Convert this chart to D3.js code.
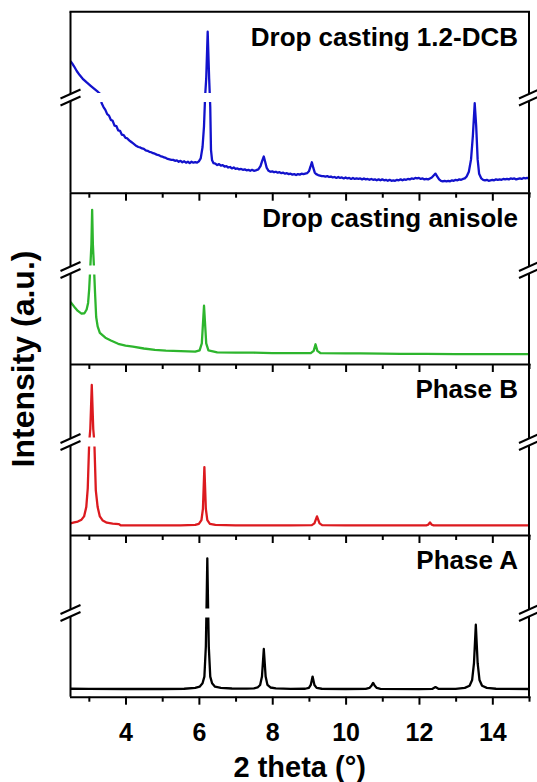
<!DOCTYPE html>
<html><head><meta charset="utf-8">
<script src="https://cdn.jsdelivr.net/npm/d3@7"></script>
<style>
body{margin:0;background:#fff}
text{font-family:"Liberation Sans",Arial,sans-serif;font-weight:bold;fill:#000}
</style>
</head><body>
<svg id="chart" width="537" height="782"></svg>
<script>
// ---------------- data ----------------
const xDomain = [2.5, 15];
const xTicks = [4, 6, 8, 10, 12, 14];
const xMinorTicks = [3, 5, 7, 9, 11, 13, 15];
const panelNames = ["Drop casting 1.2-DCB", "Drop casting anisole", "Phase B", "Phase A"];
const breakValue = 100;   // a.u. where the axis is broken
const maxValue = 1000;    // a.u. at top of each panel

const dcb = [
[2.50,482],[2.55,455],[2.60,425],[2.67,378],[2.75,335],[2.85,290],[2.95,255],[3.05,222],[3.15,190],[3.25,158],[3.30,140],
[3.35,94],[3.40,90],[3.45,87],[3.50,82.5],[3.55,81],[3.60,76.5],[3.65,75.5],[3.70,70.5],[3.75,70],[3.80,65.5],[3.85,65],[3.90,61],[3.95,60.5],
[4.00,57.5],[4.05,57],[4.10,55],[4.15,53.5],[4.20,52],[4.25,50.5],[4.30,49],[4.35,48],[4.40,47.5],[4.45,46.5],[4.50,46],[4.55,44.5],[4.60,44],
[4.65,43],[4.70,42.5],[4.75,41.5],[4.80,41],[4.85,40],[4.90,39.5],[4.95,38.5],[5.00,38],[5.05,37],[5.10,36.5],[5.15,35.5],[5.20,35],[5.25,34.5],
[5.30,34.5],[5.35,33.5],[5.40,34],[5.45,32.5],[5.50,33.5],[5.55,32],[5.60,33],[5.65,31.5],[5.70,32.5],[5.75,31],[5.80,32.5],[5.85,31.5],[5.90,32],
[5.95,31.5],[6.00,33],[6.05,36],[6.10,48],[6.14,70],[6.17,110],[6.20,300],[6.24,790],[6.28,300],[6.31,90],[6.33,45],[6.36,34],[6.40,31],
[6.45,30.5],[6.50,29],[6.55,30],[6.60,28.5],[6.65,29],[6.70,27.5],[6.75,28],[6.80,26.5],[6.85,27],[6.90,25.5],[6.95,26.5],[7.00,25],[7.05,25.5],
[7.10,24.5],[7.15,25],[7.20,24],[7.25,24.5],[7.30,23.5],[7.35,24],[7.40,23],[7.45,24],[7.50,23],[7.55,23.5],[7.62,24.5],[7.68,28],[7.73,34],
[7.77,38],[7.81,32],[7.85,26],[7.90,23],[7.95,22],[8.00,22.5],[8.05,21.5],[8.10,22],[8.15,21],[8.20,21.5],[8.25,20.5],[8.30,21],[8.35,20],
[8.40,20.5],[8.45,19.5],[8.50,20],[8.55,19],[8.60,19.5],[8.65,18.5],[8.70,19.5],[8.75,19],[8.80,20],[8.85,19.5],[8.90,20],[8.95,20.5],[9.00,22.5],
[9.04,27],[9.08,32],[9.12,26],[9.16,21],[9.20,19.5],[9.25,18.5],[9.30,18],[9.35,17.5],[9.40,17.5],[9.45,17],[9.50,17.5],[9.55,16.5],[9.60,17],
[9.65,16],[9.70,16.5],[9.75,15.5],[9.80,16.5],[9.85,15.5],[9.90,16],[9.95,15],[10.00,16],[10.05,15],[10.10,15.5],[10.15,14.5],[10.20,15.5],
[10.25,14.5],[10.30,15],[10.35,14.5],[10.40,15],[10.45,14],[10.50,15],[10.55,14],[10.60,14.5],[10.65,13.5],[10.70,14.5],[10.75,13.5],[10.80,14],
[10.85,13],[10.90,14],[10.95,13],[11.00,14],[11.05,13],[11.10,13.5],[11.15,12.5],[11.20,13.5],[11.25,12.5],[11.30,13],[11.35,12.5],[11.40,13.5],
[11.45,13],[11.50,14],[11.55,13],[11.60,14],[11.65,13.5],[11.70,14.5],[11.75,14],[11.80,15],[11.85,14.5],[11.90,15.5],[11.95,15],[12.00,15.5],
[12.05,14.5],[12.10,15],[12.15,14],[12.20,14.5],[12.25,14],[12.30,15],[12.35,16],[12.40,18],[12.45,20],[12.50,17],[12.55,14],[12.60,12.5],
[12.65,12],[12.70,12.5],[12.75,12],[12.80,12.5],[12.85,12],[12.90,13],[12.95,12.5],[13.00,13.5],[13.05,13],[13.10,14],[13.15,13.5],[13.20,14.5],
[13.25,15],[13.30,17],[13.36,22],[13.42,35],[13.47,60],[13.52,94],[13.56,70],[13.60,35],[13.64,20],[13.70,15],[13.75,13.5],[13.80,13],
[13.85,13.5],[13.90,12.5],[13.95,13],[14.00,13.5],[14.05,13],[14.10,14],[14.15,13.5],[14.20,14],[14.25,13.5],[14.30,14.5],[14.35,14],[14.40,14.5],
[14.45,14],[14.50,15],[14.55,14.5],[14.60,15],[14.65,14],[14.70,14.5],[14.75,15],[14.80,14.5],[14.85,15.5],[14.90,15],[14.95,15.5],[15.00,15]
];

const anisole = [
[2.50,66],[2.60,61],[2.70,56.5],[2.80,53.5],[2.88,54],[2.94,58],[2.98,65],[3.01,80],[3.04,130],[3.07,400],[3.09,801],[3.11,400],[3.14,130],
[3.17,75],[3.20,50],[3.24,40],[3.30,33],[3.45,28],[3.60,25],[3.80,21.5],[4.00,19.5],[4.20,18.4],[4.50,16.5],[4.80,15],[5.10,14.2],[5.50,13.6],
[5.90,13.1],[6.02,14.5],[6.08,22],[6.14,62],[6.20,22],[6.26,14.5],[6.50,12.4],[7.00,12],[7.50,12],[8.00,11.6],[8.50,11.5],[9.05,11.5],
[9.13,14],[9.18,21],[9.23,14],[9.32,11.5],[10.00,11.3],[10.40,11.2],[11.00,11],[11.50,10.8],[12.20,10.7],[13.00,10.6],[14.00,10.6],[15.00,10.5]
];

const phaseB = [
[2.50,12.5],[2.60,13.5],[2.70,14.5],[2.80,16.5],[2.87,20],[2.93,30],[2.97,50],[3.01,100],[3.04,250],[3.08,758],[3.12,250],[3.15,100],
[3.19,48],[3.24,30],[3.30,20],[3.38,15.5],[3.49,13.2],[3.65,12.2],[3.82,11.8],[3.86,10.5],[4.50,10.3],[5.50,10.3],[5.90,10.8],[6.00,12],
[6.07,16],[6.11,28],[6.15,73],[6.19,28],[6.23,16],[6.30,12],[6.45,10.8],[7.00,10.3],[8.50,10.3],[9.08,10.6],[9.15,12.5],[9.22,20],[9.29,12.5],
[9.36,10.6],[10.00,10.3],[12.20,10.3],[12.25,11],[12.30,13.5],[12.35,11],[12.40,10.3],[15.00,10.3]
];

const phaseA = [
[2.50,9.5],[3.00,9.3],[4.00,9.2],[5.00,9.2],[5.60,9.5],[5.90,10.5],[6.02,12],[6.10,16],[6.15,24],[6.19,60],[6.21,200],[6.23,731],[6.25,200],
[6.27,60],[6.31,24],[6.36,16],[6.44,12],[6.60,10.5],[6.90,9.8],[7.30,9.6],[7.50,10],[7.60,11],[7.67,14],[7.72,24],[7.77,57],[7.82,24],
[7.87,14],[7.95,11],[8.10,10],[8.50,9.4],[8.90,9.5],[9.00,10.5],[9.05,14],[9.10,24],[9.15,14],[9.21,10.5],[9.35,9.5],[10.00,9.2],[10.55,9.3],
[10.65,10.5],[10.71,13.5],[10.75,16.5],[10.79,13.5],[10.85,10.5],[10.95,9.3],[12.00,9.1],[12.36,9.3],[12.45,11.5],[12.54,9.3],[13.00,9.3],
[13.25,10.5],[13.38,13],[13.45,20],[13.50,40],[13.55,86],[13.60,40],[13.65,20],[13.72,13],[13.85,10.5],[14.10,9.5],[15.00,9.2]
];

const series = [dcb, anisole, phaseB, phaseA];

// ---------------- layout & style ----------------
const colors = ["#1212cc", "#2db52d", "#dc1a1f", "#000000"];
const plotLeft = 70.5, plotRight = 529;
const panels = [
  {top: 11.7, bottom: 192.7, brk: 97.5},
  {top: 192.7, bottom: 364, brk: 270},
  {top: 364, bottom: 535, brk: 442},
  {top: 535, bottom: 696.7, brk: 613}
];
const gapHalf = 4.5;

const svg = d3.select("#chart");
const x = d3.scaleLinear().domain(xDomain).range([plotLeft, plotRight]);
const defs = svg.append("defs");

panels.forEach((p, i) => {
  const y = d3.scaleLinear().domain([0, breakValue, maxValue]).range([p.bottom, p.brk, p.top]);

  const clip = defs.append("clipPath").attr("id", "clip" + i);
  clip.append("rect").attr("x", plotLeft).attr("y", p.top)
      .attr("width", plotRight - plotLeft).attr("height", p.brk - gapHalf - p.top);
  clip.append("rect").attr("x", plotLeft).attr("y", p.brk + gapHalf)
      .attr("width", plotRight - plotLeft).attr("height", p.bottom - p.brk - gapHalf);

  const line = d3.line().x(d => x(d[0])).y(d => y(d[1])).curve(d3.curveLinear);
  svg.append("path").datum(series[i])
     .attr("d", line)
     .attr("fill", "none")
     .attr("stroke", colors[i])
     .attr("stroke-width", 2.3)
     .attr("stroke-linejoin", "round")
     .attr("clip-path", "url(#clip" + i + ")");

  // panel label
  svg.append("text").attr("x", 518).attr("y", p.top + 34)
     .attr("text-anchor", "end").attr("font-size", 26).text(panelNames[i]);

  // bottom axis (major)
  const isLast = i === panels.length - 1;
  const ax = d3.axisBottom(x).tickValues(xTicks).tickSize(8).tickSizeOuter(0)
      .tickPadding(19).tickFormat(isLast ? d3.format("d") : () => "");
  const g = svg.append("g").attr("transform", `translate(0,${p.bottom})`).call(ax);
  g.select(".domain").attr("stroke", "#000").attr("stroke-width", 2).attr("stroke-linecap", "square");
  g.selectAll(".tick line").attr("stroke", "#000").attr("stroke-width", 2);
  g.selectAll(".tick text").attr("font-size", 25).attr("font-family", "Liberation Sans, Arial, sans-serif")
    .attr("font-weight", "bold").attr("fill", "#000");

  const axm = d3.axisBottom(x).tickValues(xMinorTicks).tickSize(5).tickSizeOuter(0).tickFormat(() => "");
  const gm = svg.append("g").attr("transform", `translate(0,${p.bottom})`).call(axm);
  gm.select(".domain").remove();
  gm.selectAll(".tick line").attr("stroke", "#000").attr("stroke-width", 2);

  // vertical axes with breaks
  [plotLeft, plotRight].forEach(ax0 => {
    svg.append("line").attr("x1", ax0).attr("x2", ax0).attr("y1", p.top).attr("y2", p.brk - 3.5)
       .attr("stroke", "#000").attr("stroke-width", 2);
    svg.append("line").attr("x1", ax0).attr("x2", ax0).attr("y1", p.brk + 3.5).attr("y2", p.bottom)
       .attr("stroke", "#000").attr("stroke-width", 2);
    [-3.5, 3.5].forEach(off => {
      svg.append("line")
         .attr("x1", ax0 - 10).attr("y1", p.brk + off + 4.5)
         .attr("x2", ax0 + 10).attr("y2", p.brk + off - 4.5)
         .attr("stroke", "#000").attr("stroke-width", 2);
    });
  });
});

// top border
svg.append("line").attr("x1", plotLeft).attr("x2", plotRight)
   .attr("y1", panels[0].top).attr("y2", panels[0].top)
   .attr("stroke", "#000").attr("stroke-width", 2).attr("stroke-linecap", "square");

// axis titles
svg.append("text").attr("x", (plotLeft + plotRight) / 2).attr("y", 777)
   .attr("text-anchor", "middle").attr("font-size", 29).text("2 theta (°)");
svg.append("text").attr("transform", "translate(34,359) rotate(-90)")
   .attr("text-anchor", "middle").attr("font-size", 32).text("Intensity (a.u.)");
</script>
</body></html>
